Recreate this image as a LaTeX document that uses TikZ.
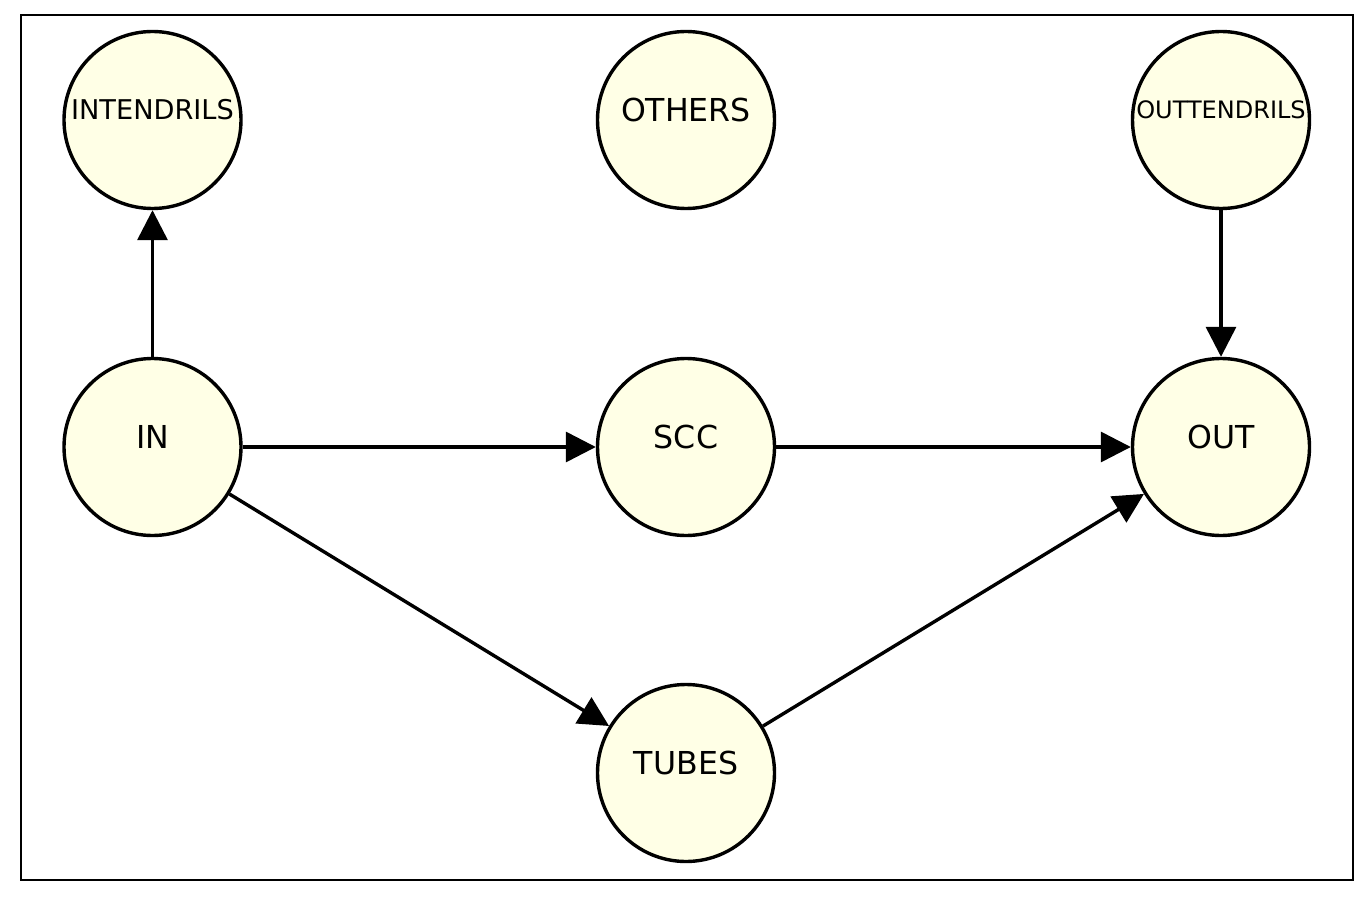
\documentclass[tikz,border=0pt]{standalone}
\usepackage{fontspec}
\setmainfont{DejaVu Sans}
\usepackage{tikz}
\usetikzlibrary{arrows.meta}

\definecolor{relleno}{RGB}{255,255,230}

\tikzset{
  estado/.style={circle, draw=black, line width=1.7pt, fill=relleno,
    minimum size=88.5pt, inner sep=0pt},
  etiq/.style={inner sep=0pt, yshift=5pt, font=\fontsize{15.8}{18}\selectfont},
  flecha/.style={line width=1.7pt, -{Triangle[length=15pt, width=15pt]}}
}

\begin{document}
\begin{tikzpicture}[x=0.5pt, y=-0.5pt]
        \useasboundingbox (0,0) rectangle (1371,899);
        % Marco
        \draw[line width=1.3pt] (21,15) rectangle (1353,880);

        % Nodos
        \foreach \n/\x/\y/\t in {in/152.5/447/IN, scc/686/447/SCC, out/1221/447/OUT,
                                  tubes/686/773/TUBES, others/686/120/OTHERS}
            \node[estado, label={[etiq]center:\t}] (\n) at (\x,\y) {};
        \node[estado, label={[etiq, font=\fontsize{13.6}{16}\selectfont]center:INTENDRILS}]
            (intendrils) at (152.5,120) {};
        \node[estado, label={[etiq, font=\fontsize{12}{14}\selectfont]center:OUTTENDRILS}]
            (outtendrils) at (1221,120) {};

        % Aristas
        \foreach \a/\b in {in/intendrils, in/scc, scc/out, in/tubes, tubes/out, outtendrils/out}
            \draw[flecha] (\a) -- (\b);
    \end{tikzpicture}
\end{document}
